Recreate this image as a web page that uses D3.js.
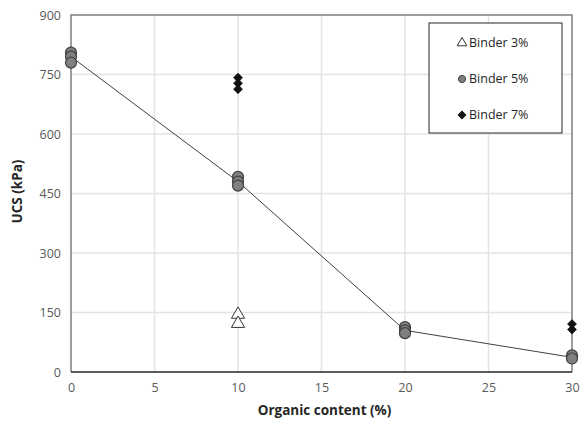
<!DOCTYPE html>
<html>
<head>
<meta charset="utf-8">
<script src="https://cdn.jsdelivr.net/npm/d3@7"></script>
<style>
  body { margin: 0; background: #fff; }
  text { font-family: "Open Sans", sans-serif; }
</style>
</head>
<body>
<script>
// data
var binder3X = [10, 10];
var binder3Y = [145, 122];
var binder5X = [0, 0, 0, 10, 10, 10, 20, 20, 20, 30, 30];
var binder5Y = [805, 795, 780, 492, 480, 470, 113, 105, 98, 42, 34];
var binder7X = [10, 10, 10, 30, 30];
var binder7Y = [742, 728, 713, 121, 107];
var trendX = [0, 10, 20, 30];
var trendY = [795, 480, 105, 37];
var xTicks = [0, 5, 10, 15, 20, 25, 30];
var yTicks = [0, 150, 300, 450, 600, 750, 900];
var legendLabels = ["Binder 3%", "Binder 5%", "Binder 7%"];

var W = 588, H = 426;
var m = { left: 71, top: 15, right: 16, bottom: 54 };
var iw = W - m.left - m.right, ih = H - m.top - m.bottom;

var svg = d3.select("body").append("svg")
    .attr("width", W).attr("height", H);

var x = d3.scaleLinear().domain([0, 30]).range([0, iw]);
var y = d3.scaleLinear().domain([0, 900]).range([ih, 0]);

var g = svg.append("g").attr("transform", "translate(" + m.left + "," + m.top + ")");

// grid
g.append("g").selectAll("line").data(xTicks.slice(1, -1)).enter().append("line")
    .attr("x1", d => x(d)).attr("x2", d => x(d))
    .attr("y1", 0).attr("y2", ih)
    .style("stroke", "#e3e3e3").style("stroke-width", 1.5);
g.append("g").selectAll("line").data(yTicks.slice(1, -1)).enter().append("line")
    .attr("x1", 0).attr("x2", iw)
    .attr("y1", d => y(d)).attr("y2", d => y(d))
    .style("stroke", "#e3e3e3").style("stroke-width", 1.5);

// plot border
g.append("path")
    .attr("d", "M0," + ih + "V0H" + iw + "V" + ih)
    .style("fill", "none").style("stroke", "#7f7f7f").style("stroke-width", 1.5);
g.append("line")
    .attr("x1", 0).attr("x2", iw).attr("y1", ih).attr("y2", ih)
    .style("stroke", "#262626").style("stroke-width", 1.5);

// axes (labels only)
var xAxis = g.append("g").attr("transform", "translate(0," + ih + ")")
    .call(d3.axisBottom(x).tickValues(xTicks).tickSize(0).tickPadding(11));
var yAxis = g.append("g")
    .call(d3.axisLeft(y).tickValues(yTicks).tickSize(0).tickPadding(10));
[xAxis, yAxis].forEach(function(a) {
  a.select(".domain").remove();
  a.selectAll("text").style("font-size", "12.5px").style("fill", "#595959")
    .style("font-family", "'Open Sans', sans-serif");
});

// trend line
var line = d3.line().x(d => x(d[0])).y(d => y(d[1]));
g.append("path")
    .datum(d3.zip(trendX, trendY))
    .attr("d", line)
    .style("fill", "none").style("stroke", "#404040").style("stroke-width", 1);

// Binder 7% diamonds (square turned 45deg)
var diamond = d3.symbol().type(d3.symbolSquare).size(42);
g.append("g").selectAll("path").data(d3.zip(binder7X, binder7Y)).enter().append("path")
    .attr("d", diamond)
    .attr("transform", d => "translate(" + x(d[0]) + "," + y(d[1]) + ") rotate(45)")
    .style("fill", "#111").style("stroke", "#111").style("stroke-width", 0.5);

// Binder 5% circles
g.append("g").selectAll("circle").data(d3.zip(binder5X, binder5Y)).enter().append("circle")
    .attr("cx", d => x(d[0])).attr("cy", d => y(d[1])).attr("r", 5.5)
    .style("fill", "#808080").style("stroke", "#404040").style("stroke-width", 1.2);

// Binder 3% triangles
var tri = d3.symbol().type(d3.symbolTriangle).size(75);
g.append("g").selectAll("path").data(d3.zip(binder3X, binder3Y)).enter().append("path")
    .attr("d", tri)
    .attr("transform", d => "translate(" + x(d[0]) + "," + y(d[1]) + ")")
    .style("fill", "#fff").style("stroke", "#333").style("stroke-width", 1);

// axis titles
svg.append("text")
    .attr("x", m.left + iw / 2 + 3).attr("y", 415)
    .attr("text-anchor", "middle")
    .style("font-size", "13.5px").style("font-weight", "bold").style("fill", "#262626")
    .text("Organic content (%)");
svg.append("text")
    .attr("transform", "translate(22," + (m.top + ih / 2 - 2) + ") rotate(-90)")
    .attr("text-anchor", "middle")
    .style("font-size", "13.5px").style("font-weight", "bold").style("fill", "#262626")
    .text("UCS (kPa)");

// legend
var lg = svg.append("g").attr("transform", "translate(429,23)");
lg.append("rect").attr("width", 133).attr("height", 110)
    .style("fill", "#fff").style("stroke", "#262626").style("stroke-width", 1);
var items = lg.selectAll("g.item").data(legendLabels).enter().append("g")
    .attr("transform", (d, i) => "translate(33," + (20 + i * 36) + ")");
items.append("path")
    .attr("d", function(d, i) {
      return i === 0 ? d3.symbol().type(d3.symbolTriangle).size(40)()
           : i === 1 ? d3.symbol().type(d3.symbolCircle).size(40)()
           : d3.symbol().type(d3.symbolSquare).size(28)();
    })
    .attr("transform", (d, i) => i === 2 ? "rotate(45)" : null)
    .style("fill", (d, i) => i === 0 ? "#fff" : i === 1 ? "#808080" : "#111")
    .style("stroke", (d, i) => i === 0 ? "#333" : i === 1 ? "#404040" : "#111")
    .style("stroke-width", 1);
items.append("text")
    .attr("x", 7).attr("dy", "0.35em")
    .style("font-size", "12.5px").style("fill", "#262626")
    .text(d => d);
</script>
</body>
</html>
